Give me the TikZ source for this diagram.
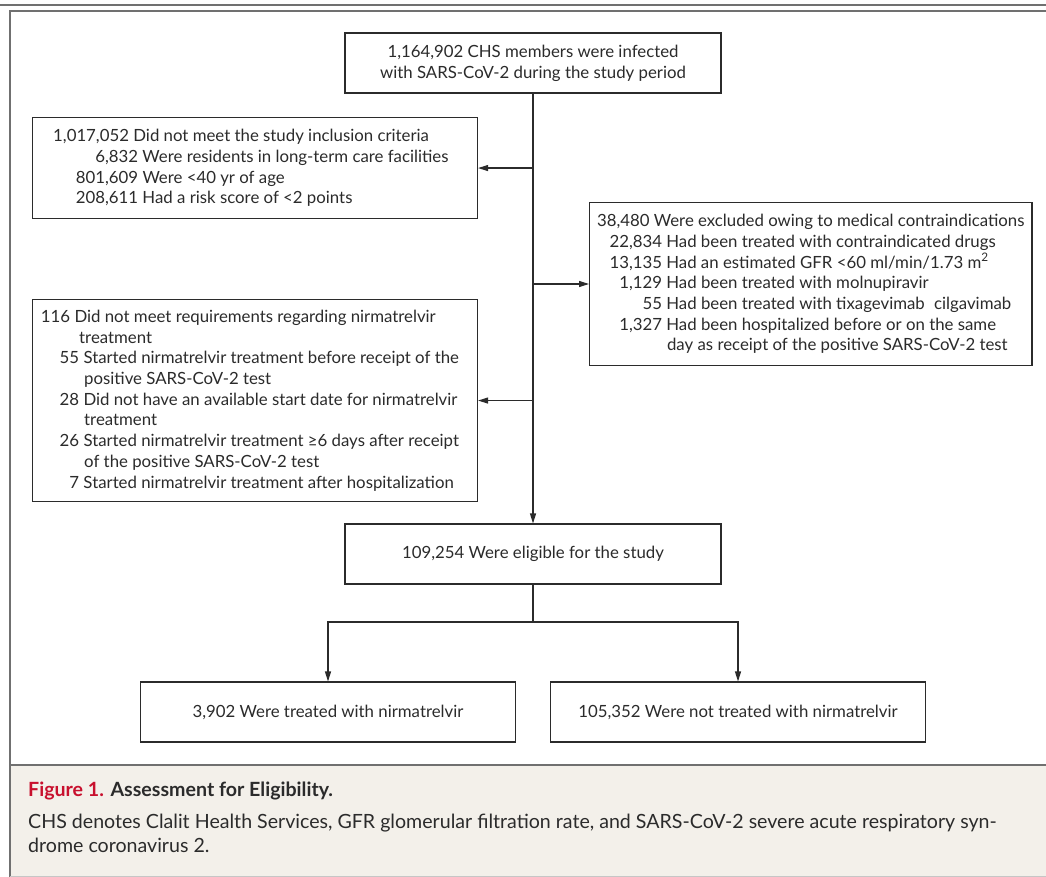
\documentclass[tikz,border=0pt]{standalone}
\usepackage{fontspec}
\setmainfont{Lato}
\usetikzlibrary{arrows.meta,calc}
\definecolor{ink}{HTML}{2B2B2B}
\definecolor{framegray}{HTML}{707070}
\definecolor{capbg}{HTML}{F3F0EA}
\definecolor{figred}{HTML}{C8102E}
\newcommand{\nm}[2]{\makebox[#1][r]{#2}}
\begin{document}
\begin{tikzpicture}[x=1pt,y=-1pt,
  box/.style={draw=ink, line width=1.1pt, inner sep=0pt},
  body/.style={font=\fontsize{16.8}{20.7}\selectfont, text=ink},
  txt/.style={body, inner sep=0pt, align=left},
  conn/.style={draw=ink, line width=1.1pt},
  arr/.style={conn, -{Triangle[length=10pt,width=6pt]}},
  captext/.style={anchor=base west, inner sep=0pt, text=ink, font=\fontsize{19.6}{25}\selectfont},
]
\useasboundingbox (0,0) rectangle (1046,877);
\fill[white] (0,0) rectangle (1046,877);
\fill[capbg] (10,765) rectangle (1046,876);
\draw[framegray, line width=2.5pt] (0,5) -- (1046,5);
\draw[framegray, line width=1.5pt] (1046,11) -- (10,11) -- (10,877);
\draw[framegray, line width=2.5pt] (10,765) -- (1046,765);
\draw[gray!45, line width=1pt] (10,876) -- (1046,876);

% top box
\node[box, body, align=center, minimum width=376pt, minimum height=60pt] (top) at (533,63)
  {1,164,902 CHS members were infected\\with SARS-CoV-2 during the study period};

% exclusion box 1
\node[box, minimum width=445pt, minimum height=101pt, anchor=north west] (excl1) at (32,117) {};
\node[txt, anchor=west] (excl1txt) at ($(excl1.west)+(21,0)$)
  {1,017,052 Did not meet the study inclusion criteria\\
   \nm{85pt}{6,832} Were residents in long-term care facilities\\
   \nm{85pt}{801,609} Were <40 yr of age\\
   \nm{85pt}{208,611} Had a risk score of <2 points};

% exclusion box 2 (right)
\node[box, txt, inner xsep=7.5pt, minimum height=163pt, anchor=west] (excl2) at (589,284)
  {38,480 Were excluded owing to medical contraindications\\
   \nm{65pt}{22,834} Had been treated with contraindicated drugs\\
   \nm{65pt}{13,135} Had an estimated GFR <60 ml/min/1.73 m\textsuperscript{2}\\
   \nm{65pt}{1,129} Had been treated with molnupiravir\\
   \nm{65pt}{55} Had been treated with tixagevimab\hspace{0.55em}cilgavimab\\
   \nm{65pt}{1,327} Had been hospitalized before or on the same\\
   \hspace*{70pt}day as receipt of the positive SARS-CoV-2 test};

% exclusion box 3
\node[box, minimum width=445pt, minimum height=202pt, anchor=north west] (excl3) at (32,299) {};
\node[txt, anchor=west] (excl3txt) at ($(excl3.west)+(11,0)$)
  {\nm{27pt}{116} Did not meet requirements regarding nirmatrelvir\\
   \hspace*{36pt}treatment\\
   \nm{36pt}{55} Started nirmatrelvir treatment before receipt of the\\
   \hspace*{41pt}positive SARS-CoV-2 test\\
   \nm{36pt}{28} Did not have an available start date for nirmatrelvir\\
   \hspace*{41pt}treatment\\
   \nm{36pt}{26} Started nirmatrelvir treatment ≥6 days after receipt\\
   \hspace*{41pt}of the positive SARS-CoV-2 test\\
   \nm{36pt}{7} Started nirmatrelvir treatment after hospitalization};

% eligible
\node[box, body, minimum width=376pt, minimum height=60pt] (elig) at (533,554)
  {109,254 Were eligible for the study};

% outcome boxes
\node[box, body, minimum width=375pt, minimum height=60pt] (treat) at (328,712)
  {3,902 Were treated with nirmatrelvir};
\node[box, body, minimum width=375pt, minimum height=60pt] (nottreat) at (738,712)
  {105,352 Were not treated with nirmatrelvir};

% connectors
\draw[arr] (top.south) -- (elig.north);
\draw[arr] (top.south |- excl1.east) -- (excl1.east);
\draw[arr] (top.south |- excl2.west) -- (excl2.west);
\draw[arr] (top.south |- excl3.east) -- (excl3.east);
\coordinate (split) at (533,622);
\draw[conn] (elig.south) -- (split);
\draw[arr] (split) -| (treat.north);
\draw[arr] (split) -| (nottreat.north);

% caption
\node[captext] (captitle) at (28,796) {\textcolor{figred}{\bfseries Figure 1.} \textbf{Assessment for Eligibility.}};
\node[captext] (capline1) at (28,828) {CHS denotes Clalit Health Services, GFR glomerular filtration rate, and SARS-CoV-2 severe acute respiratory syn-};
\node[captext] (capline2) at (28,852) {drome coronavirus 2.};
\end{tikzpicture}
\end{document}
